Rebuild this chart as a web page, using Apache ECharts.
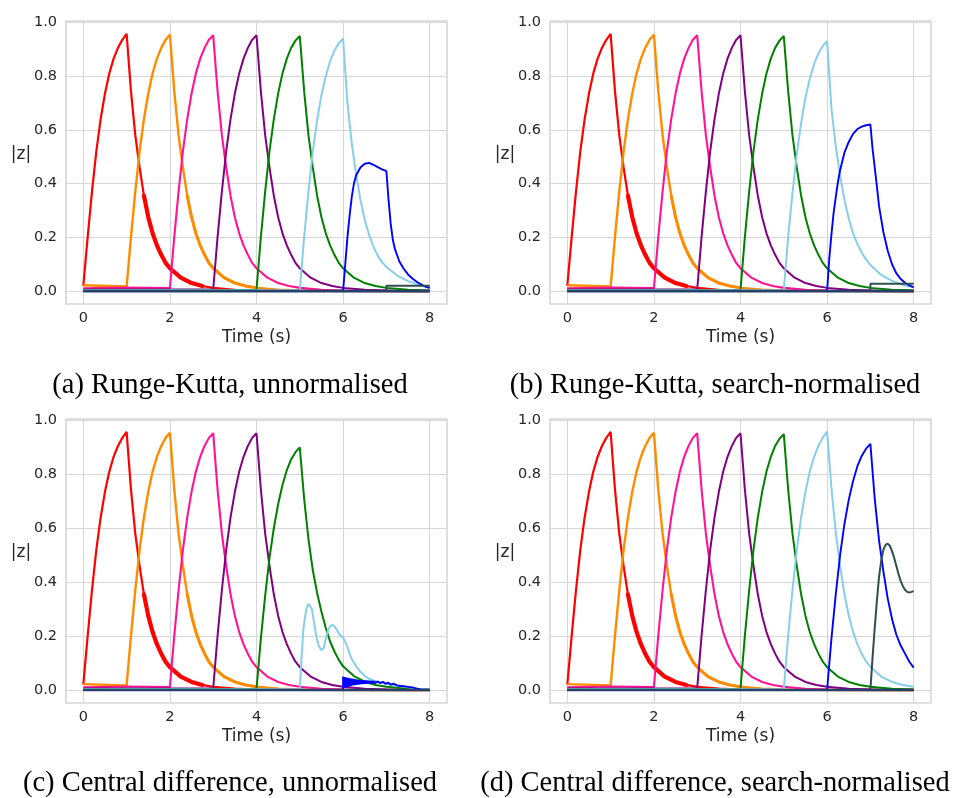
<!DOCTYPE html>
<html>
<head>
<meta charset="utf-8">
<script src="https://cdn.jsdelivr.net/npm/echarts@6/dist/echarts.min.js"></script>
<style>
html,body{margin:0;padding:0;background:#fff;}
#c{width:954px;height:798px;}
</style>
</head>
<body>
<div id="c"></div>
<script>
// ---------- tick labels ----------
const xTicks = [0, 2, 4, 6, 8];
const yTicks = [0, 0.2, 0.4, 0.6, 0.8, 1.0];
const captions = [
  '(a) Runge-Kutta, unnormalised',
  '(b) Runge-Kutta, search-normalised',
  '(c) Central difference, unnormalised',
  '(d) Central difference, search-normalised'
];

// ---------- data: [time (s), |z|] ----------
// curves that look the same in all four panels
const redAll = [[0,0.02],[0.1,0.2],[0.2,0.37],[0.3,0.52],[0.4,0.64],[0.5,0.735],[0.6,0.81],[0.7,0.865],[0.8,0.905],[0.9,0.935],[1,0.957],[1.1,0.745],[1.2,0.58],[1.3,0.46],[1.4,0.355],[1.5,0.275],[1.6,0.215],[1.7,0.17],[1.8,0.135],[1.9,0.105],[2,0.085],[2.25,0.05],[2.5,0.03],[2.75,0.019],[3,0.012],[3.5,0.005],[4,0.002],[5,0.001],[8,0]];
const orangeAll = [[0,0.022],[1,0.017],[1.1,0.2],[1.2,0.37],[1.3,0.52],[1.4,0.64],[1.5,0.735],[1.6,0.81],[1.7,0.865],[1.8,0.905],[1.9,0.935],[2,0.954],[2.1,0.745],[2.2,0.58],[2.3,0.46],[2.4,0.355],[2.5,0.275],[2.6,0.215],[2.7,0.17],[2.8,0.135],[2.9,0.105],[3,0.085],[3.25,0.05],[3.5,0.03],[3.75,0.019],[4,0.012],[4.5,0.005],[5,0.002],[6,0.001],[8,0]];
const pinkAll = [[0,0.01],[1,0.013],[2,0.011],[2.1,0.2],[2.2,0.37],[2.3,0.52],[2.4,0.64],[2.5,0.735],[2.6,0.81],[2.7,0.865],[2.8,0.905],[2.9,0.935],[3,0.952],[3.1,0.745],[3.2,0.58],[3.3,0.46],[3.4,0.355],[3.5,0.275],[3.6,0.215],[3.7,0.17],[3.8,0.135],[3.9,0.105],[4,0.085],[4.25,0.05],[4.5,0.03],[4.75,0.019],[5,0.012],[5.5,0.005],[6,0.002],[7,0.001],[8,0]];
const purpleAll = [[0,0.006],[3,0.006],[3.1,0.2],[3.2,0.37],[3.3,0.52],[3.4,0.64],[3.5,0.735],[3.6,0.81],[3.7,0.865],[3.8,0.905],[3.9,0.935],[4,0.952],[4.1,0.745],[4.2,0.58],[4.3,0.46],[4.4,0.355],[4.5,0.275],[4.6,0.215],[4.7,0.17],[4.8,0.135],[4.9,0.105],[5,0.085],[5.25,0.05],[5.5,0.03],[5.75,0.019],[6,0.012],[6.5,0.005],[7,0.002],[8,0.001]];
const greenRK = [[0,0.004],[4,0.004],[4.1,0.2],[4.2,0.37],[4.3,0.52],[4.4,0.64],[4.5,0.735],[4.6,0.81],[4.7,0.865],[4.8,0.905],[4.9,0.932],[5,0.949],[5.1,0.745],[5.2,0.58],[5.3,0.46],[5.4,0.355],[5.5,0.275],[5.6,0.215],[5.7,0.17],[5.8,0.135],[5.9,0.105],[6,0.085],[6.25,0.05],[6.5,0.03],[6.75,0.019],[7,0.012],[7.5,0.005],[8,0.002]];
const zeroLine = [[0,0],[8,0]];

// (a) Runge-Kutta, unnormalised
const aSky = [[0,0.003],[5,0.003],[5.1,0.2],[5.2,0.37],[5.3,0.52],[5.4,0.635],[5.5,0.73],[5.6,0.8],[5.7,0.855],[5.8,0.895],[5.9,0.922],[6,0.94],[6.1,0.7],[6.2,0.55],[6.3,0.435],[6.4,0.34],[6.5,0.265],[6.6,0.21],[6.7,0.165],[6.8,0.132],[6.9,0.108],[7,0.09],[7.25,0.058],[7.5,0.037],[7.75,0.023],[8,0.014]];
const aBlue = [[0,0],[6,0],[6.05,0.1],[6.1,0.2],[6.15,0.28],[6.2,0.35],[6.25,0.4],[6.3,0.43],[6.4,0.46],[6.5,0.474],[6.6,0.477],[6.7,0.47],[6.8,0.461],[6.9,0.453],[7,0.446],[7.05,0.34],[7.1,0.25],[7.15,0.19],[7.2,0.155],[7.3,0.11],[7.4,0.083],[7.5,0.062],[7.6,0.047],[7.7,0.035],[7.8,0.025],[7.9,0.017],[8,0.011]];
const aSlate = [[0,0],[7,0],[7,0.02],[8,0.02]];

// (b) Runge-Kutta, search-normalised
const bSky = [[0,0.003],[5,0.003],[5.1,0.2],[5.2,0.365],[5.3,0.51],[5.4,0.625],[5.5,0.72],[5.6,0.79],[5.7,0.845],[5.8,0.885],[5.9,0.912],[6,0.93],[6.1,0.68],[6.2,0.54],[6.3,0.43],[6.4,0.34],[6.5,0.27],[6.6,0.215],[6.7,0.175],[6.8,0.143],[6.9,0.118],[7,0.097],[7.25,0.06],[7.5,0.038],[7.75,0.023],[8,0.014]];
const bBlue = [[0,0],[6,0],[6.05,0.12],[6.1,0.21],[6.15,0.29],[6.2,0.35],[6.25,0.405],[6.3,0.45],[6.4,0.515],[6.5,0.555],[6.6,0.585],[6.7,0.603],[6.8,0.612],[6.9,0.617],[7,0.62],[7.05,0.53],[7.1,0.46],[7.15,0.39],[7.2,0.316],[7.3,0.22],[7.4,0.15],[7.5,0.1],[7.6,0.066],[7.7,0.045],[7.8,0.031],[7.9,0.021],[8,0.014]];
const bSlate = [[0,0],[7,0],[7,0.027],[8,0.027]];

// (c) Central difference, unnormalised
const cGreen = [[0,0.004],[4,0.004],[4.1,0.19],[4.2,0.35],[4.3,0.49],[4.4,0.6],[4.5,0.69],[4.6,0.76],[4.7,0.815],[4.8,0.855],[4.9,0.882],[5,0.9],[5.1,0.71],[5.2,0.56],[5.3,0.445],[5.4,0.36],[5.5,0.29],[5.6,0.23],[5.7,0.18],[5.8,0.143],[5.9,0.112],[6,0.088],[6.25,0.052],[6.5,0.031],[6.75,0.019],[7,0.012],[7.5,0.005],[8,0.002]];
const cSky = [[0,0.003],[5,0.003],[5.04,0.12],[5.08,0.22],[5.12,0.27],[5.16,0.305],[5.2,0.32],[5.24,0.322],[5.28,0.3],[5.32,0.26],[5.36,0.22],[5.4,0.185],[5.45,0.16],[5.5,0.148],[5.55,0.155],[5.6,0.19],[5.65,0.22],[5.7,0.237],[5.75,0.242],[5.8,0.236],[5.85,0.225],[5.9,0.21],[5.95,0.2],[6,0.195],[6.1,0.16],[6.15,0.135],[6.2,0.115],[6.3,0.088],[6.4,0.068],[6.5,0.053],[6.6,0.042],[6.7,0.036],[6.8,0.031],[6.9,0.027],[7,0.023],[7.25,0.016],[7.5,0.01],[7.75,0.005],[8,0.002]];
const cBlue = [[0,0],[6,0],[6,0.05],[6.02,0.008],[6.04,0.048],[6.06,0.01],[6.08,0.046],[6.1,0.012],[6.12,0.045],[6.14,0.014],[6.16,0.043],[6.18,0.015],[6.2,0.042],[6.22,0.017],[6.24,0.041],[6.26,0.018],[6.28,0.04],[6.3,0.019],[6.32,0.039],[6.34,0.02],[6.36,0.038],[6.38,0.021],[6.4,0.037],[6.42,0.022],[6.44,0.036],[6.46,0.022],[6.48,0.036],[6.5,0.023],[6.52,0.035],[6.54,0.023],[6.56,0.035],[6.58,0.024],[6.6,0.034],[6.62,0.024],[6.64,0.034],[6.66,0.024],[6.68,0.033],[6.7,0.025],[6.72,0.033],[6.74,0.025],[6.76,0.032],[6.78,0.025],[6.8,0.032],[6.82,0.025],[6.84,0.032],[6.86,0.025],[6.88,0.031],[6.9,0.024],[6.92,0.031],[6.94,0.024],[6.96,0.031],[6.98,0.023],[7,0.03],[7.02,0.022],[7.04,0.028],[7.06,0.021],[7.08,0.027],[7.1,0.02],[7.12,0.026],[7.14,0.019],[7.16,0.024],[7.18,0.018],[7.2,0.022],[7.25,0.017],[7.3,0.016],[7.4,0.014],[7.5,0.012],[7.6,0.01],[7.7,0.005],[7.8,0.002],[8,0]];

// (d) Central difference, search-normalised
const dSky = [[0,0.003],[5,0.003],[5.1,0.2],[5.2,0.37],[5.3,0.52],[5.4,0.64],[5.5,0.735],[5.6,0.81],[5.7,0.865],[5.8,0.905],[5.9,0.936],[6,0.958],[6.1,0.75],[6.2,0.585],[6.3,0.46],[6.4,0.356],[6.5,0.276],[6.6,0.216],[6.7,0.17],[6.8,0.135],[6.9,0.106],[7,0.086],[7.25,0.05],[7.5,0.03],[7.75,0.019],[8,0.012]];
const dBlue = [[0,0],[6,0],[6.1,0.19],[6.2,0.355],[6.3,0.5],[6.4,0.615],[6.5,0.705],[6.6,0.775],[6.7,0.83],[6.8,0.868],[6.9,0.895],[7,0.913],[7.1,0.71],[7.2,0.555],[7.3,0.44],[7.4,0.34],[7.5,0.263],[7.6,0.205],[7.7,0.165],[7.8,0.135],[7.9,0.105],[8,0.083]];
const dSlate = [[0,0],[7,0],[7.05,0.12],[7.1,0.23],[7.15,0.33],[7.2,0.42],[7.25,0.48],[7.3,0.52],[7.35,0.538],[7.4,0.543],[7.45,0.535],[7.5,0.515],[7.55,0.49],[7.6,0.46],[7.65,0.43],[7.7,0.405],[7.75,0.385],[7.8,0.372],[7.85,0.364],[7.9,0.362],[7.95,0.364],[8,0.367]];

// ---------- styling / layout ----------
const COL = {
  red:'#ff0000', orange:'#ff8c00', pink:'#ff1493', purple:'#800080',
  green:'#008000', sky:'#87ceeb', blue:'#0000ff', slate:'#2f4f4f', base:'#25406a'
};
const panelSeries = [
  [['red',redAll],['orange',orangeAll],['pink',pinkAll],['purple',purpleAll],['green',greenRK],['sky',aSky],['blue',aBlue],['slate',aSlate],['base',zeroLine]],
  [['red',redAll],['orange',orangeAll],['pink',pinkAll],['purple',purpleAll],['green',greenRK],['sky',bSky],['blue',bBlue],['slate',bSlate],['base',zeroLine]],
  [['red',redAll],['orange',orangeAll],['pink',pinkAll],['purple',purpleAll],['green',cGreen],['sky',cSky],['blue',cBlue],['base',zeroLine]],
  [['red',redAll],['orange',orangeAll],['pink',pinkAll],['purple',purpleAll],['green',greenRK],['sky',dSky],['blue',dBlue],['slate',dSlate],['base',zeroLine]]
];
const grids = [
  {left:66, top:21, width:381, height:283},
  {left:550, top:21, width:381, height:283},
  {left:66, top:419, width:381, height:284},
  {left:550, top:419, width:381, height:284}
];
const WIDTH = {red:2.2, orange:2.4, pink:2.1, purple:2.0, green:2.0, sky:2.0, blue:1.9, slate:2.0, base:2.6};
const GRIDC = '#d6d6d6';
const TXT = '#262626';
const SANS = 'DejaVu Sans';

const option = {
  animation:false,
  backgroundColor:'#ffffff',
  grid: grids.map(g => Object.assign({show:true, borderColor:GRIDC, borderWidth:1.6, backgroundColor:'#fff', containLabel:false}, g)),
  xAxis: grids.map((g,i) => ({
    type:'value', gridIndex:i, min:-0.4, max:8.4,
    axisLine:{show:false},
    axisTick:{show:false, customValues:xTicks},
    axisLabel:{customValues:xTicks, color:TXT, fontSize:14.5, fontFamily:SANS, margin:7, formatter:v=>String(v)},
    splitLine:{show:true, lineStyle:{color:GRIDC, width:1}},
    name:'Time (s)', nameLocation:'middle', nameGap:25,
    nameTextStyle:{color:TXT, fontSize:17, fontFamily:SANS}
  })),
  yAxis: grids.map((g,i) => ({
    type:'value', gridIndex:i, min:-0.048, max:1.005,
    axisLine:{show:false},
    axisTick:{show:false, customValues:yTicks},
    axisLabel:{customValues:yTicks, color:TXT, fontSize:14.5, fontFamily:SANS, margin:9, formatter:v=>v.toFixed(1)},
    splitLine:{show:true, lineStyle:{color:GRIDC, width:1}}
  })),
  series: [],
  graphic: []
};

panelSeries.forEach((list, pi) => {
  list.forEach(([key, data]) => {
    option.series.push({
      type:'line', xAxisIndex:pi, yAxisIndex:pi, data:data,
      showSymbol:false, symbol:'none', silent:true, clip:true,
      lineStyle:{color:COL[key], width:WIDTH[key]}
    });
    // heavier band where the reference trace is thickened by fast oscillation
    if (key === 'red') {
      option.series.push({
        type:'line', xAxisIndex:pi, yAxisIndex:pi,
        data:data.filter(p => p[0] >= 1.4 && p[0] <= 2.75),
        showSymbol:false, symbol:'none', silent:true,
        lineStyle:{color:COL.red, width:4.2, cap:'round'}
      });
    }
    if (key === 'orange') {
      option.series.push({
        type:'line', xAxisIndex:pi, yAxisIndex:pi,
        data:data.filter(p => p[0] >= 2.4 && p[0] <= 4),
        showSymbol:false, symbol:'none', silent:true,
        lineStyle:{color:COL.orange, width:3.0, cap:'round'}
      });
    }
  });
});

// y-axis titles and sub-figure captions
const zPos = [[21,155],[505,155],[21,553],[505,553]];
zPos.forEach(p => option.graphic.push({
  type:'text', x:p[0], y:p[1],
  style:{text:'|z|', fill:TXT, fontSize:17, fontFamily:SANS, align:'center', verticalAlign:'middle', textAlign:'center', textVerticalAlign:'middle'}
}));
const capPos = [[230,386],[715,386],[230,784],[715,784]];
capPos.forEach((p,i) => option.graphic.push({
  type:'text', x:p[0], y:p[1],
  style:{text:captions[i], fill:'#000', fontSize:28.5, fontFamily:'Liberation Serif', align:'center', verticalAlign:'middle', textAlign:'center', textVerticalAlign:'middle'}
}));

const chart = echarts.init(document.getElementById('c'), null, {renderer:'canvas'});
chart.setOption(option);
</script>
</body>
</html>
